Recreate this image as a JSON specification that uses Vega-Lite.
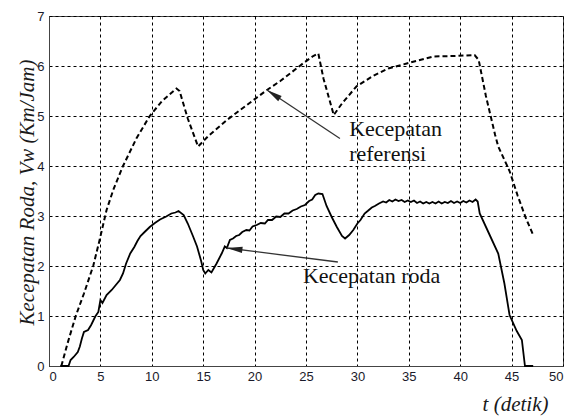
{
  "$schema": "https://vega.github.io/schema/vega-lite/v6.json",
  "width": 514,
  "height": 350,
  "autosize": {"type": "none"},
  "padding": {"left": 49, "top": 16, "right": 13, "bottom": 50},
  "background": "white",
  "config": {
    "view": {"stroke": "#444", "strokeWidth": 1},
    "axis": {
      "labelFont": "'Liberation Sans', Arial, sans-serif",
      "labelFontSize": 13,
      "labelColor": "#1a1a2a",
      "ticks": false,
      "domainColor": "#444",
      "gridColor": "#000",
      "gridOpacity": 1,
      "gridDash": [3, 3],
      "gridWidth": 1,
      "titleFont": "'Liberation Serif', serif",
      "titleFontStyle": "italic",
      "titleFontWeight": "normal",
      "titleFontSize": 21,
      "titleColor": "#1a1a1a"
    }
  },
  "datasets": {
    "ref": [
      {"t": 1.2, "v": 0}, {"t": 1.8, "v": 0.45}, {"t": 2.6, "v": 1.0}, {"t": 3.4, "v": 1.45},
      {"t": 4.3, "v": 2.0}, {"t": 4.9, "v": 2.5}, {"t": 5.6, "v": 3.12}, {"t": 6.3, "v": 3.55},
      {"t": 7.2, "v": 4.0}, {"t": 8.5, "v": 4.55}, {"t": 9.8, "v": 5.0}, {"t": 11.0, "v": 5.3},
      {"t": 12.4, "v": 5.55}, {"t": 12.7, "v": 5.5}, {"t": 13.5, "v": 4.95}, {"t": 14.5, "v": 4.39},
      {"t": 15.5, "v": 4.6}, {"t": 17.3, "v": 4.92}, {"t": 19.9, "v": 5.32}, {"t": 21.2, "v": 5.52},
      {"t": 22.5, "v": 5.7}, {"t": 24.7, "v": 6.05}, {"t": 25.7, "v": 6.2}, {"t": 26.2, "v": 6.25},
      {"t": 26.7, "v": 5.75}, {"t": 27.7, "v": 5.02}, {"t": 28.5, "v": 5.25}, {"t": 29.9, "v": 5.59},
      {"t": 31.5, "v": 5.8}, {"t": 33.0, "v": 5.95}, {"t": 34.8, "v": 6.05}, {"t": 37.4, "v": 6.19},
      {"t": 39.5, "v": 6.2}, {"t": 41.4, "v": 6.22}, {"t": 41.8, "v": 6.12}, {"t": 42.5, "v": 5.4},
      {"t": 43.4, "v": 4.62}, {"t": 43.7, "v": 4.39}, {"t": 44.8, "v": 3.9}, {"t": 45.6, "v": 3.4},
      {"t": 46.4, "v": 2.95}, {"t": 47.1, "v": 2.62}
    ],
    "wheel": [
      {"t": 1.1, "v": 0}, {"t": 1.9, "v": 0}, {"t": 2.1, "v": 0.12}, {"t": 2.4, "v": 0.18},
      {"t": 2.8, "v": 0.28}, {"t": 3.0, "v": 0.39}, {"t": 3.2, "v": 0.55}, {"t": 3.4, "v": 0.68},
      {"t": 3.8, "v": 0.72}, {"t": 4.1, "v": 0.82}, {"t": 4.5, "v": 0.99}, {"t": 4.8, "v": 1.08},
      {"t": 5.0, "v": 1.32}, {"t": 5.2, "v": 1.26}, {"t": 5.6, "v": 1.42}, {"t": 6.1, "v": 1.52},
      {"t": 6.5, "v": 1.62}, {"t": 6.9, "v": 1.72}, {"t": 7.2, "v": 1.85}, {"t": 7.5, "v": 2.05},
      {"t": 7.9, "v": 2.25}, {"t": 8.3, "v": 2.38}, {"t": 8.6, "v": 2.5}, {"t": 8.9, "v": 2.6},
      {"t": 9.3, "v": 2.68}, {"t": 9.8, "v": 2.78}, {"t": 10.3, "v": 2.86}, {"t": 10.8, "v": 2.93},
      {"t": 11.4, "v": 2.99}, {"t": 11.9, "v": 3.05}, {"t": 12.3, "v": 3.07}, {"t": 12.6, "v": 3.1},
      {"t": 13.1, "v": 3.02}, {"t": 13.5, "v": 2.85}, {"t": 14.0, "v": 2.6}, {"t": 14.4, "v": 2.39},
      {"t": 14.8, "v": 2.1}, {"t": 15.0, "v": 1.92}, {"t": 15.2, "v": 1.85}, {"t": 15.5, "v": 1.92},
      {"t": 15.8, "v": 1.87}, {"t": 16.3, "v": 2.05}, {"t": 16.8, "v": 2.25}, {"t": 17.1, "v": 2.39},
      {"t": 17.3, "v": 2.36}, {"t": 17.6, "v": 2.52}, {"t": 17.9, "v": 2.55}, {"t": 18.2, "v": 2.6},
      {"t": 18.5, "v": 2.62}, {"t": 18.8, "v": 2.68}, {"t": 19.2, "v": 2.72}, {"t": 19.5, "v": 2.71},
      {"t": 19.8, "v": 2.79}, {"t": 20.2, "v": 2.82}, {"t": 20.6, "v": 2.86}, {"t": 21.0, "v": 2.85},
      {"t": 21.3, "v": 2.92}, {"t": 21.7, "v": 2.92}, {"t": 22.1, "v": 2.99}, {"t": 22.5, "v": 2.98},
      {"t": 22.9, "v": 3.05}, {"t": 23.3, "v": 3.05}, {"t": 23.7, "v": 3.11}, {"t": 24.1, "v": 3.14},
      {"t": 24.5, "v": 3.19}, {"t": 24.9, "v": 3.22}, {"t": 25.3, "v": 3.3}, {"t": 25.6, "v": 3.33},
      {"t": 25.9, "v": 3.42}, {"t": 26.2, "v": 3.45}, {"t": 26.6, "v": 3.44}, {"t": 27.0, "v": 3.2},
      {"t": 27.5, "v": 2.98}, {"t": 28.0, "v": 2.78}, {"t": 28.5, "v": 2.6}, {"t": 28.8, "v": 2.55},
      {"t": 29.2, "v": 2.62}, {"t": 29.6, "v": 2.72}, {"t": 30.0, "v": 2.85}, {"t": 30.3, "v": 2.92},
      {"t": 30.7, "v": 3.05}, {"t": 31.0, "v": 3.1}, {"t": 31.4, "v": 3.17}, {"t": 31.7, "v": 3.2},
      {"t": 32.1, "v": 3.25}, {"t": 32.5, "v": 3.29}, {"t": 32.8, "v": 3.27}, {"t": 33.1, "v": 3.32},
      {"t": 33.4, "v": 3.29}, {"t": 33.7, "v": 3.33}, {"t": 34.0, "v": 3.3}, {"t": 34.3, "v": 3.32},
      {"t": 34.6, "v": 3.28}, {"t": 34.9, "v": 3.31}, {"t": 35.2, "v": 3.28}, {"t": 35.5, "v": 3.31},
      {"t": 35.8, "v": 3.26}, {"t": 36.1, "v": 3.29}, {"t": 36.4, "v": 3.25}, {"t": 36.7, "v": 3.28},
      {"t": 37.0, "v": 3.25}, {"t": 37.3, "v": 3.28}, {"t": 37.6, "v": 3.25}, {"t": 37.9, "v": 3.29},
      {"t": 38.2, "v": 3.25}, {"t": 38.5, "v": 3.28}, {"t": 38.8, "v": 3.26}, {"t": 39.1, "v": 3.3},
      {"t": 39.4, "v": 3.26}, {"t": 39.7, "v": 3.29}, {"t": 40.0, "v": 3.26}, {"t": 40.3, "v": 3.3},
      {"t": 40.6, "v": 3.27}, {"t": 40.9, "v": 3.31}, {"t": 41.2, "v": 3.28}, {"t": 41.5, "v": 3.33},
      {"t": 41.7, "v": 3.29}, {"t": 41.9, "v": 3.05}, {"t": 42.8, "v": 2.65}, {"t": 43.7, "v": 2.25},
      {"t": 44.3, "v": 1.65}, {"t": 44.8, "v": 1.02}, {"t": 45.5, "v": 0.7}, {"t": 46.0, "v": 0.52},
      {"t": 46.3, "v": 0.0}, {"t": 47.1, "v": 0.0}
    ],
    "arrows": [
      {"x": 28.3, "y": 4.55, "x2": 21.2, "y2": 5.52, "angle": 303.6},
      {"x": 28.1, "y": 2.08, "x2": 17.3, "y2": 2.36, "angle": 277}
    ],
    "labels": [
      {"x": 29.2, "y": 4.6, "text": "Kecepatan"},
      {"x": 29.2, "y": 4.1, "text": "referensi"},
      {"x": 24.7, "y": 1.66, "text": "Kecepatan roda"}
    ]
  },
  "encoding": {
    "x": {
      "field": "t", "type": "quantitative",
      "scale": {"domain": [0, 50], "nice": false},
      "axis": {
        "values": [0, 5, 10, 15, 20, 25, 30, 35, 40, 45, 50],
        "title": "t (detik)",
        "titleAnchor": "end",
        "titleAlign": "right",
        "titleX": 499,
        "titleY": 44,
        "titleBaseline": "alphabetic",
        "labelPadding": 4
      }
    },
    "y": {
      "field": "v", "type": "quantitative",
      "scale": {"domain": [0, 7], "nice": false},
      "axis": {
        "values": [0, 1, 2, 3, 4, 5, 6, 7],
        "title": "Kecepatan Roda, Vw (Km/Jam)",
        "titleAngle": -90,
        "titleX": -16,
        "titleY": 176,
        "titleAlign": "center",
        "titleBaseline": "alphabetic",
        "labelPadding": 5
      }
    }
  },
  "layer": [
    {
      "data": {"name": "ref"},
      "mark": {"type": "line", "color": "#000", "strokeWidth": 2, "strokeDash": [5, 3]}
    },
    {
      "data": {"name": "wheel"},
      "mark": {"type": "line", "color": "#000", "strokeWidth": 1.8}
    },
    {
      "data": {"name": "arrows"},
      "mark": {"type": "rule", "color": "#333", "strokeWidth": 1.3},
      "encoding": {
        "x": {"field": "x", "type": "quantitative"},
        "y": {"field": "y", "type": "quantitative"},
        "x2": {"field": "x2"},
        "y2": {"field": "y2"}
      }
    },
    {
      "data": {"name": "arrows"},
      "mark": {"type": "point", "filled": true, "color": "#222", "opacity": 1, "shape": "M0,0L0.32,1.6L-0.32,1.6Z", "size": 380},
      "encoding": {
        "x": {"field": "x2", "type": "quantitative"},
        "y": {"field": "y2", "type": "quantitative"},
        "angle": {"field": "angle", "type": "quantitative", "scale": null}
      }
    },
    {
      "data": {"name": "labels"},
      "mark": {"type": "text", "align": "left", "baseline": "alphabetic", "font": "'Liberation Serif', serif", "fontSize": 22, "color": "#111"},
      "encoding": {
        "x": {"field": "x", "type": "quantitative"},
        "y": {"field": "y", "type": "quantitative"},
        "text": {"field": "text"}
      }
    }
  ]
}
